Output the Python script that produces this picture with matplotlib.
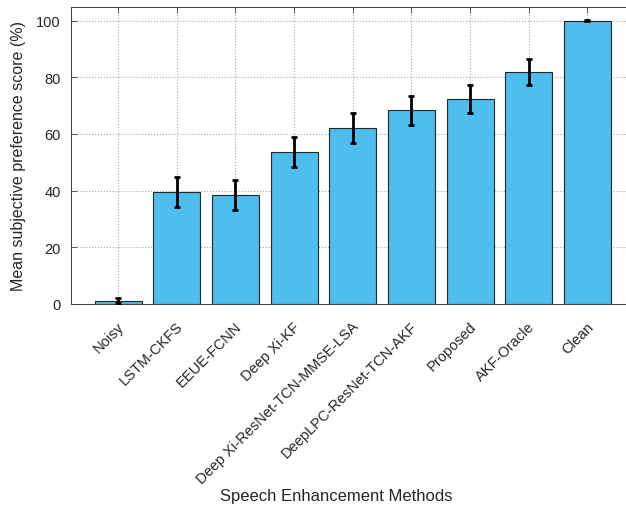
import matplotlib
matplotlib.use("Agg")
import matplotlib.pyplot as plt
from matplotlib.transforms import ScaledTranslation, blended_transform_factory

methods = ["Noisy", "LSTM-CKFS", "EEUE-FCNN", "Deep Xi-KF",
           "Deep Xi-ResNet-TCN-MMSE-LSA", "DeepLPC-ResNet-TCN-AKF",
           "Proposed", "AKF-Oracle", "Clean"]
scores = [1.2, 39.6, 38.5, 53.7, 62.2, 68.3, 72.4, 81.9, 100.0]
errors = [0.8, 5.2, 5.2, 5.3, 5.2, 5.0, 5.0, 4.6, 0.2]
yticks = [0, 20, 40, 60, 80, 100]

plt.rcParams['font.family'] = ['Liberation Sans', 'DejaVu Sans']

W, H = 626, 510
fig = plt.figure(figsize=(W / 100, H / 100), dpi=100)
# axes runs slightly past the right edge, like the original export
left, right, top, bottom = 70.5, 635, 7.5, 305
ax = fig.add_axes([left / W, 1 - bottom / H, (right - left) / W,
                   (bottom - top) / H])

x = list(range(len(methods)))
ax.bar(x, scores, width=0.8, color='#4DBEEE', edgecolor='#262626',
       linewidth=0.8, zorder=2)
ax.errorbar(x, scores, yerr=errors, fmt='none', ecolor='black',
            elinewidth=2, capsize=2.5, capthick=2, zorder=3)

ax.set_xlim(-0.81, 8.81)
ax.set_ylim(0, 105)
ax.set_yticks(yticks)
ax.set_xticks(x)
ax.set_xticklabels([])
# rotated category labels, placed a bit down-left of each tick
trans = (blended_transform_factory(ax.transData, ax.transAxes)
         + ScaledTranslation(-0.01, -0.15, fig.dpi_scale_trans))
for xi, name in zip(x, methods):
    ax.text(xi, 0, name, transform=trans, rotation=45, ha='right',
            va='top', rotation_mode='anchor', fontsize=10.5,
            color='#262626')
ax.tick_params(axis='y', labelsize=10.5, labelcolor='#262626', pad=7)
ax.tick_params(direction='in', top=True, right=True, length=4,
               color='#404040', width=0.6)

ax.set_axisbelow(True)
ax.grid(True, linestyle=':', color='#a8a8a8', linewidth=0.8)
for s in ax.spines.values():
    s.set_color('#404040')
    s.set_linewidth(0.7)

ax.set_ylabel("Mean subjective preference score (%)", fontsize=11.5,
              color='#262626')
ax.yaxis.set_label_coords(-(left - 26) / (right - left), 0.5)
ax.set_xlabel("Speech Enhancement Methods", fontsize=12, color='#262626')
ax.xaxis.set_label_coords((336 - left) / (right - left),
                          -(489 - bottom) / (bottom - top))

fig.savefig("out.png", dpi=100)
